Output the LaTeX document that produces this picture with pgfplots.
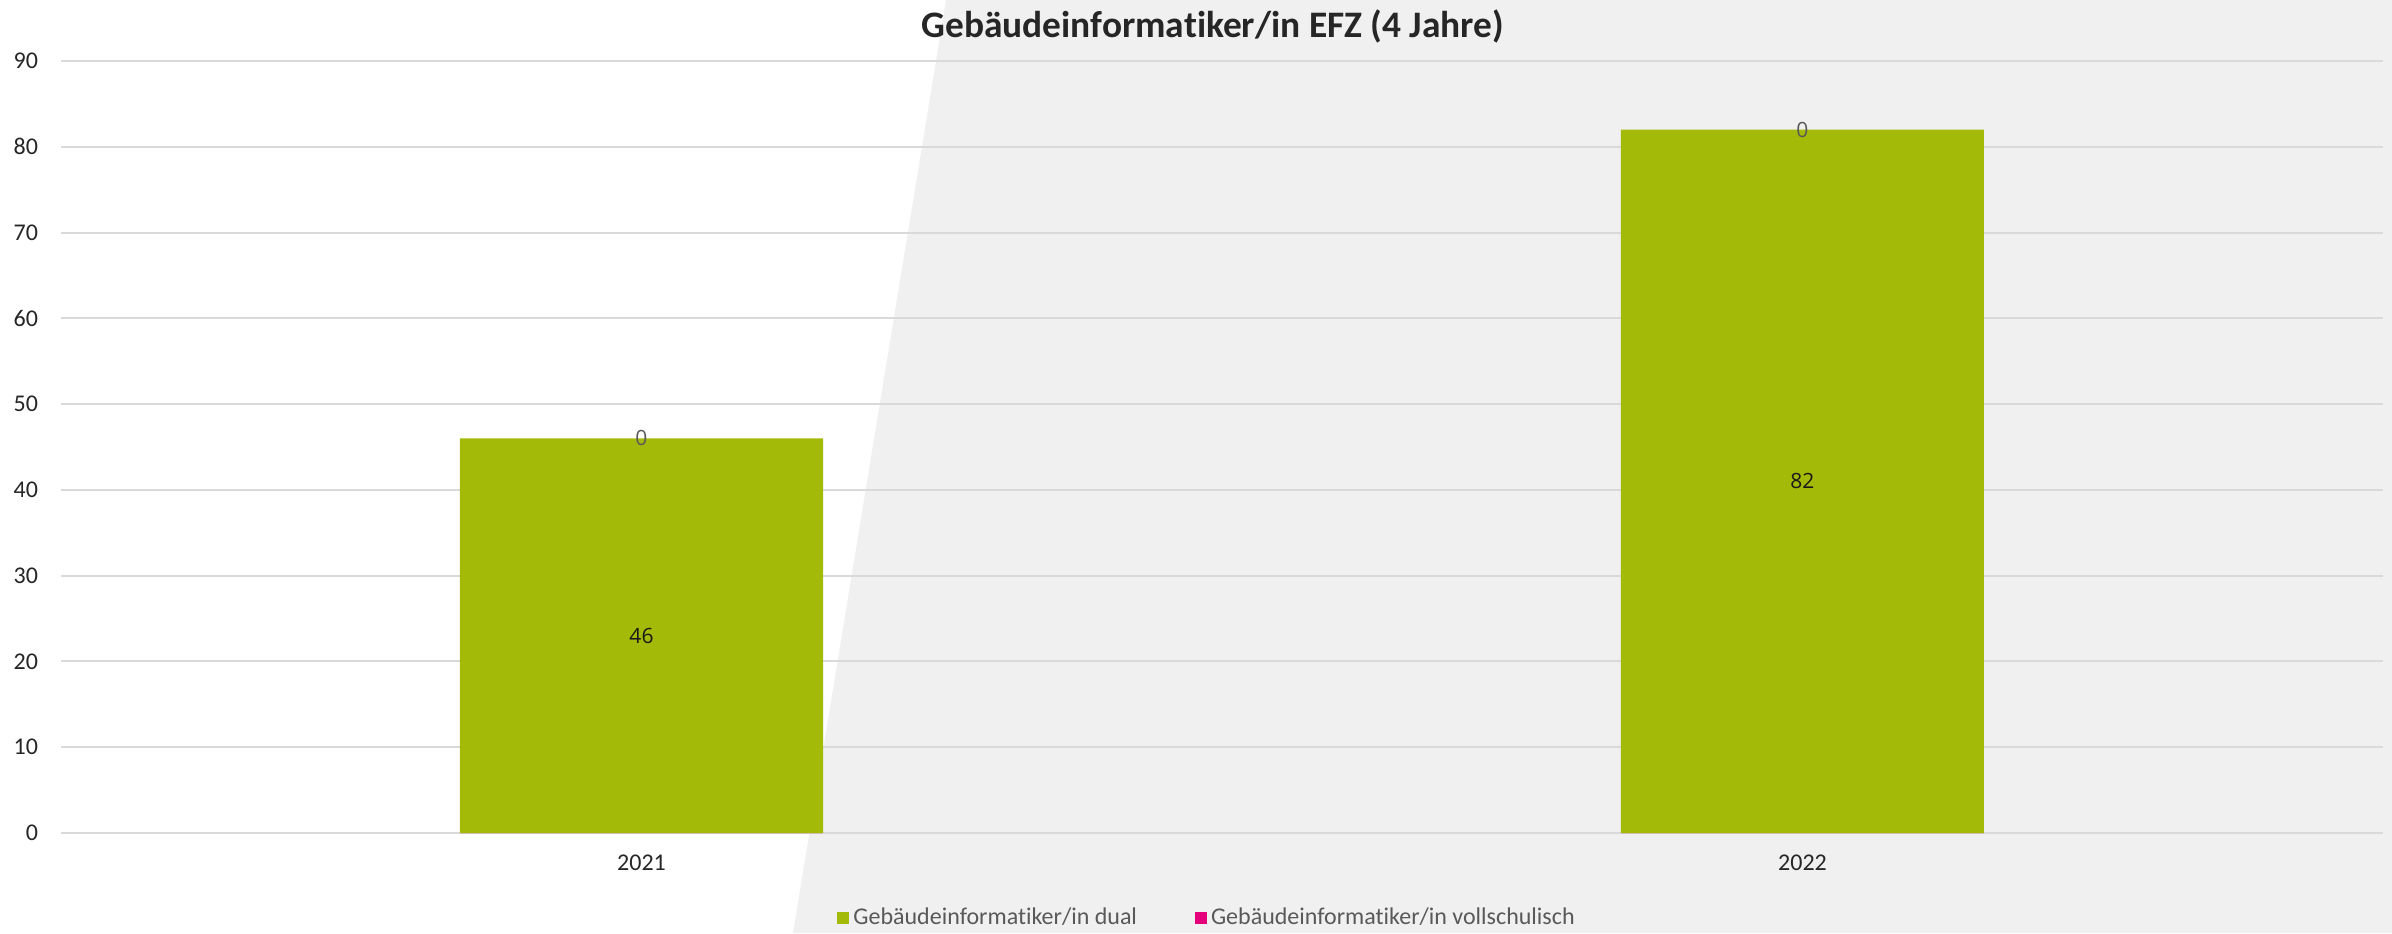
\documentclass[border=0pt]{standalone}
\usepackage{pgfplots}
\pgfplotsset{compat=1.18}
\usepackage{fontspec}
\setmainfont[Ligatures=NoCommon]{Carlito}
\newfontfamily\labelfont{Open Sans}
\definecolor{dualgreen}{HTML}{A3BB08}
\definecolor{vsmag}{HTML}{E3007A}
\definecolor{gridgrey}{HTML}{D9D9D9}
\definecolor{bggrey}{HTML}{F0F0F0}
\definecolor{txtgrey}{HTML}{595959}
\definecolor{tickcol}{HTML}{262626}
\begin{document}
\begin{tikzpicture}[x=1pt,y=1pt]
\fill[bggrey] (473,466.5) -- (1196,466.5) -- (1196,0) -- (396.5,0) -- cycle;
\begin{axis}[
  at={(30.5pt,50pt)}, anchor=south west,
  scale only axis, width=1161pt, height=386pt,
  xmin=-0.5, xmax=1.5, ymin=0, ymax=90,
  xtick={0,1}, xticklabels={2021,2022},
  ytick={0,10,...,90},
  major tick length=0pt,
  axis line style={draw=none},
  ymajorgrids, grid style={gridgrey, line width=1pt},
  /pgf/number format/assume math mode=true,
  xticklabel style={anchor=center, yshift=-15pt, font=\fontsize{12}{14}\selectfont, text=tickcol},
  yticklabel style={anchor=east, xshift=-8pt, font=\fontsize{12}{14}\selectfont, text=tickcol},
  title={Gebäudeinformatiker/in EFZ (4 Jahre)},
  title style={at={(axis description cs:0.496,1)}, anchor=center, yshift=11.5pt, font=\bfseries\fontsize{18.7}{22}\selectfont, text=tickcol},
  legend style={at={(axis description cs:0.494,-0.110)}, anchor=center, draw=none, fill=none, legend columns=2, font=\fontsize{12}{14}\selectfont, text=txtgrey, /tikz/every even column/.append style={column sep=27pt}},
]
\addplot[ybar, bar width=181.5pt, bar shift=0pt, fill=dualgreen, draw=none,
  legend image code/.code={\fill[dualgreen] (0pt,-3pt) rectangle (6pt,3pt);}]
  coordinates {(0,46) (1,82)};
\addlegendentry{Gebäudeinformatiker/in dual}
\addplot[ybar, bar width=181.5pt, bar shift=0pt, fill=vsmag, draw=none,
  legend image code/.code={\fill[vsmag] (0pt,-3pt) rectangle (6pt,3pt);}]
  coordinates {(0,0) (1,0)};
\addlegendentry{Gebäudeinformatiker/in vollschulisch}
% value labels of the dual series, centred in the bars
\addplot[forget plot, draw=none, mark=none, point meta=explicit symbolic,
  nodes near coords, nodes near coords style={anchor=center, font=\labelfont\fontsize{10.5}{12}\selectfont, text=black!90}]
  coordinates {(0,23)[46] (1,41)[82]};
% value labels of the vollschulisch series, at the top of the stack
\addplot[forget plot, draw=none, mark=none, point meta=explicit symbolic,
  nodes near coords, nodes near coords style={anchor=center, font=\labelfont\fontsize{10.5}{12}\selectfont, text=txtgrey}]
  coordinates {(0,46)[0] (1,82)[0]};
\end{axis}
\pgfresetboundingbox
\path[use as bounding box] (0,0) rectangle (1196,466.5);
\end{tikzpicture}
\end{document}
